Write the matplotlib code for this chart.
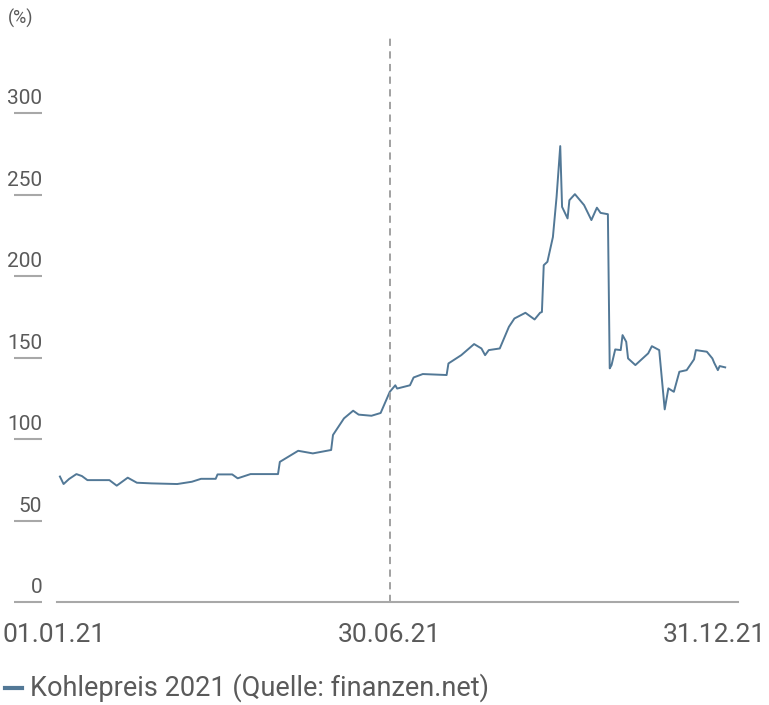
import matplotlib
matplotlib.use("Agg")
import matplotlib.pyplot as plt
import matplotlib.transforms as mtransforms
import matplotlib.dates as mdates
import pandas as pd

# ---- data ----
dates = [
    "2021-01-01", "2021-01-03", "2021-01-06", "2021-01-10", "2021-01-13", "2021-01-16",
    "2021-01-28", "2021-02-01", "2021-02-07", "2021-02-12", "2021-02-20", "2021-03-06",
    "2021-03-14", "2021-03-19", "2021-03-27", "2021-03-28", "2021-04-05", "2021-04-08",
    "2021-04-15", "2021-04-30", "2021-05-01", "2021-05-11", "2021-05-19", "2021-05-29",
    "2021-05-30", "2021-06-05", "2021-06-10", "2021-06-13", "2021-06-20", "2021-06-25",
    "2021-06-30", "2021-07-03", "2021-07-04", "2021-07-11", "2021-07-13", "2021-07-18",
    "2021-07-31", "2021-08-01", "2021-08-08", "2021-08-15", "2021-08-19", "2021-08-21",
    "2021-08-23", "2021-08-29", "2021-09-03", "2021-09-06", "2021-09-12", "2021-09-17",
    "2021-09-20", "2021-09-21", "2021-09-22", "2021-09-24", "2021-09-27", "2021-09-29",
    "2021-10-01", "2021-10-02", "2021-10-05", "2021-10-06", "2021-10-09", "2021-10-14",
    "2021-10-18", "2021-10-21", "2021-10-23", "2021-10-27", "2021-10-28", "2021-10-29",
    "2021-10-31", "2021-11-03", "2021-11-04", "2021-11-06", "2021-11-07", "2021-11-11",
    "2021-11-14", "2021-11-18", "2021-11-20", "2021-11-24", "2021-11-27", "2021-11-29",
    "2021-12-02", "2021-12-05", "2021-12-09", "2021-12-13", "2021-12-14", "2021-12-20",
    "2021-12-23", "2021-12-24", "2021-12-26", "2021-12-27", "2021-12-30",
]
kohlepreis = [
    77.0, 72.4, 75.5, 78.5, 77.3, 74.8,
    74.8, 71.4, 76.3, 73.2, 72.8, 72.4,
    73.8, 75.6, 75.6, 78.3, 78.3, 75.9,
    78.5, 78.5, 86.0, 92.8, 91.2, 93.3,
    102.5, 112.7, 117.4, 115.0, 114.3, 116.0,
    129.0, 133.0, 131.0, 133.0, 137.8, 139.9,
    139.3, 146.4, 151.5, 158.3, 155.6, 151.5,
    154.6, 155.6, 168.9, 174.0, 177.5, 173.4,
    177.5, 178.0, 206.7, 208.8, 224.0, 248.6,
    279.8, 242.5, 235.4, 246.6, 250.3, 243.6,
    234.4, 242.0, 238.8, 238.0, 143.4, 145.4,
    155.0, 154.6, 163.8, 159.7, 149.5, 145.4,
    148.5, 152.6, 157.0, 154.6, 118.2, 131.1,
    129.0, 141.3, 142.3, 148.9, 154.6, 153.6,
    149.5, 146.8, 142.3, 144.8, 144.0,
]
y_ticks = [0, 50, 100, 150, 200, 250, 300]
x_tick_dates = ["2021-01-01", "2021-06-30", "2021-12-31"]
x_tick_labels = ["01.01.21", "30.06.21", "31.12.21"]
marker_date = "2021-06-30"
legend_label = "Kohlepreis 2021 (Quelle: finanzen.net)"
unit_label = "(%)"

# ---- style ----
plt.rcParams["font.family"] = ["Roboto", "DejaVu Sans"]
TEXT_C = "#5a5a5a"
LINE_C = "#527896"
AX_C = "#a8a8a8"

x = mdates.date2num(pd.to_datetime(dates))
fig = plt.figure(figsize=(7.69, 7.05), dpi=100)
ax = fig.add_axes([0.0741, 0.1461, 0.8856, 0.8043])

ax.plot(x, kohlepreis, color=LINE_C, lw=1.4, solid_joinstyle="round")

start = mdates.date2num(pd.Timestamp("2021-01-01"))
end = mdates.date2num(pd.Timestamp("2021-12-31"))
ax.set_xlim(start - 1.6, end + 6.0)
ax.set_ylim(0, 348)

ax.axvline(mdates.date2num(pd.Timestamp(marker_date)), color="#9a9a9a", lw=1.3,
           ls=(0, (4, 3)))

for s in ["top", "right", "left"]:
    ax.spines[s].set_visible(False)
ax.spines["bottom"].set_color(AX_C)
ax.spines["bottom"].set_linewidth(1.5)
ax.set_xticks([])
ax.set_yticks([])

# y tick underlines and labels (placed left of axes, above the underline)
ytrans = mtransforms.blended_transform_factory(fig.transFigure, ax.transData)
for v in y_ticks:
    ax.plot([14 / 769, 42 / 769], [v, v], transform=ytrans, color=AX_C, lw=1.5,
            clip_on=False, solid_capstyle="butt")
    ax.annotate(str(v), xy=(42 / 769, v), xycoords=ytrans, xytext=(0, 3.5),
                textcoords="offset points", ha="right", va="bottom",
                fontsize=15, color=TEXT_C, annotation_clip=False)

fig.text(8 / 769, 1 - 18 / 705, unit_label, ha="left", va="center",
         fontsize=13, color=TEXT_C)

# x tick labels
xtrans = mtransforms.blended_transform_factory(ax.transData, fig.transFigure)
for d, lab, i in zip(x_tick_dates, x_tick_labels, range(3)):
    ha = "center"
    dx = 0
    if i == 0:
        dx = -4
    if i == 2:
        ha = "right"
        dx = 28
    ax.annotate(lab, xy=(mdates.date2num(pd.Timestamp(d)), 1 - 635 / 705),
                xycoords=xtrans, xytext=(dx, 0), textcoords="offset points",
                ha=ha, va="center", fontsize=19, color=TEXT_C,
                annotation_clip=False)

# legend
fig.lines.append(plt.Line2D([5 / 769, 22 / 769], [1 - 688 / 705, 1 - 688 / 705],
                            transform=fig.transFigure, color=LINE_C, lw=3))
fig.text(30 / 769, 1 - 688 / 705, legend_label, ha="left", va="center",
         fontsize=19.5, color=TEXT_C)

fig.savefig("out.png", dpi=100)
